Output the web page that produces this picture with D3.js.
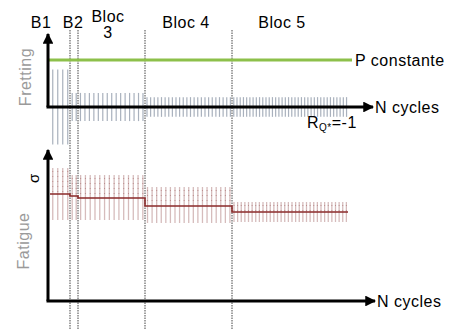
<!DOCTYPE html>
<html>
<head>
<meta charset="utf-8">
<script src="https://cdn.jsdelivr.net/npm/d3@7"></script>
<style>
  body { margin: 0; background: #fff; }
  text { font-family: "Liberation Sans", Arial, sans-serif; letter-spacing: 0.5px; }
</style>
</head>
<body>
<div id="chart"></div>
<script>
// blocks of the loading sequence
var blocNames = ["B1", "B2", "Bloc 3", "Bloc 4", "Bloc 5"];
var blocStart = [2, 22, 30, 97, 184];
var blocEnd = [22, 30, 97, 184, 300];
var dividers = [22, 30, 97, 184];

// fretting amplitude (relative to P constant = 1)
var pConst = 1;
var fretAmp = [0.8, 0.3, 0.3, 0.21, 0.21];
var fretCycles = [4, 2, 15, 24, 36];

// fatigue stress per block
var sigMax = [133, 126, 126, 114, 99];
var sigMin = [81, 81, 81, 78, 79];
var sigMean = [107, 105, 103, 95, 89];
var fatCycles = [4, 2, 14, 19, 32];

var width = 456, height = 329;

var svg = d3.select("#chart")
  .append("svg")
  .attr("width", width)
  .attr("height", height);

var x = d3.scaleLinear().domain([0, 325]).range([48, 373]);
var yF = d3.scaleLinear().domain([-1, 1.5]).range([154, 36.5]);
var yS = d3.scaleLinear().domain([0, 150]).range([301, 151]);

// arrow marker
svg.append("defs").append("marker")
  .attr("id", "arrow")
  .attr("viewBox", "0 0 10 10")
  .attr("refX", 9).attr("refY", 5)
  .attr("markerWidth", 3.6).attr("markerHeight", 3.6)
  .attr("markerUnits", "strokeWidth")
  .attr("orient", "auto")
  .append("path")
  .attr("d", "M0,0 L10,5 L0,10 z")
  .attr("fill", "#000");

// vertical dividers
svg.selectAll(".div")
  .data(dividers)
  .enter()
  .append("line")
  .attr("x1", function(d) { return x(d); })
  .attr("x2", function(d) { return x(d); })
  .attr("y1", 30)
  .attr("y2", 329)
  .style("stroke", "#444")
  .style("stroke-width", 1)
  .style("stroke-dasharray", "1.5,1");

// fretting oscillations
var fretLines = [];
blocNames.forEach(function(b, i) {
  var step = (blocEnd[i] - blocStart[i]) / fretCycles[i];
  d3.range(fretCycles[i]).forEach(function(k) {
    fretLines.push({ n: blocStart[i] + (k + 0.55) * step, a: fretAmp[i] });
  });
});
svg.append("g").selectAll("line")
  .data(fretLines)
  .enter()
  .append("line")
  .attr("x1", function(d) { return x(d.n); })
  .attr("x2", function(d) { return x(d.n); })
  .attr("y1", function(d) { return yF(d.a); })
  .attr("y2", function(d) { return yF(-d.a); })
  .style("stroke", "#a9b1bd")
  .style("stroke-width", 1.2);

// P constante
svg.append("line")
  .attr("x1", x(0)).attr("x2", x(304))
  .attr("y1", yF(pConst)).attr("y2", yF(pConst))
  .style("stroke", "#8dc04a")
  .style("stroke-width", 3);

// fatigue oscillations
var fatLines = [];
blocNames.forEach(function(b, i) {
  var step = (blocEnd[i] - blocStart[i]) / fatCycles[i];
  d3.range(fatCycles[i]).forEach(function(k) {
    fatLines.push({ n: blocStart[i] + (k + 0.55) * step, hi: sigMax[i], lo: sigMin[i] });
  });
});
var fg = svg.append("g").selectAll("g")
  .data(fatLines)
  .enter();
fg.append("line")
  .attr("x1", function(d) { return x(d.n); })
  .attr("x2", function(d) { return x(d.n); })
  .attr("y1", function(d) { return yS(d.hi); })
  .attr("y2", function(d) { return yS(d.lo); })
  .style("stroke", "#d6bcbc")
  .style("stroke-width", 1.3);
fg.append("line")
  .attr("x1", function(d) { return x(d.n); })
  .attr("x2", function(d) { return x(d.n); })
  .attr("y1", function(d) { return yS(d.hi) + 3; })
  .attr("y2", function(d) { return yS((d.hi + d.lo) / 2); })
  .style("stroke", "#b07a7a")
  .style("stroke-width", 1)
  .style("stroke-dasharray", "1,4")
  .style("opacity", 0.7);

// mean stress (step line)
var meanPts = blocStart.map(function(s, i) { return [s, sigMean[i]]; });
meanPts.push([blocEnd[4], sigMean[4]]);
svg.append("path")
  .datum(meanPts)
  .attr("d", d3.line()
    .x(function(d) { return x(d[0]); })
    .y(function(d) { return yS(d[1]); })
    .curve(d3.curveStepAfter))
  .style("fill", "none")
  .style("stroke", "#8b2a2a")
  .style("stroke-width", 1.6);

// axes
function axis(x1, y1, x2, y2) {
  svg.append("line")
    .attr("x1", x1).attr("y1", y1).attr("x2", x2).attr("y2", y2)
    .style("stroke", "#000")
    .style("stroke-width", 3)
    .attr("marker-end", "url(#arrow)");
}
axis(x(0), yF(0), x(0), 34);
axis(x(0) - 1.5, yF(0), x(325), yF(0));
axis(x(0), yS(0), x(0), 150);
axis(x(0) - 1.5, yS(0), x(327), yS(0));

// labels
var blocLabelX = [41, 73, 108, 186, 282];
svg.selectAll(".bl")
  .data(blocNames)
  .enter()
  .append("text")
  .attr("x", function(d, i) { return blocLabelX[i]; })
  .attr("y", 28)
  .attr("text-anchor", "middle")
  .style("font-size", "16px")
  .each(function(d) {
    var parts = d === "Bloc 3" ? ["Bloc", "3"] : [d];
    var t = d3.select(this);
    if (parts.length > 1) {
      t.attr("y", 22);
      parts.forEach(function(p, j) {
        t.append("tspan").attr("x", t.attr("x")).attr("dy", j ? 16 : 0).text(p);
      });
    } else {
      t.text(d);
    }
  });

svg.append("text")
  .attr("x", x(307)).attr("y", yF(pConst) + 6)
  .style("font-size", "16px")
  .text("P constante");

svg.append("text")
  .attr("x", x(327)).attr("y", yF(0) + 6)
  .style("font-size", "16px")
  .text("N cycles");

svg.append("text")
  .attr("x", x(329)).attr("y", yS(0) + 6)
  .style("font-size", "16px")
  .text("N cycles");

var r = svg.append("text")
  .attr("x", 307).attr("y", 128)
  .style("font-size", "16px");
r.append("tspan").text("R");
r.append("tspan").attr("dy", 3).style("font-size", "10px").text("Q*");
r.append("tspan").attr("dy", -3).text("=-1");

svg.append("text")
  .attr("transform", "translate(31,77) rotate(-90)")
  .attr("text-anchor", "middle")
  .style("font-size", "16px")
  .style("fill", "#9a9a9a")
  .text("Fretting");

svg.append("text")
  .attr("transform", "translate(29,241) rotate(-90)")
  .attr("text-anchor", "middle")
  .style("font-size", "16px")
  .style("fill", "#9a9a9a")
  .text("Fatigue");

svg.append("text")
  .attr("transform", "translate(39,178) rotate(-90)")
  .attr("text-anchor", "middle")
  .style("font-size", "15px")
  .text("σ");
</script>
</body>
</html>
